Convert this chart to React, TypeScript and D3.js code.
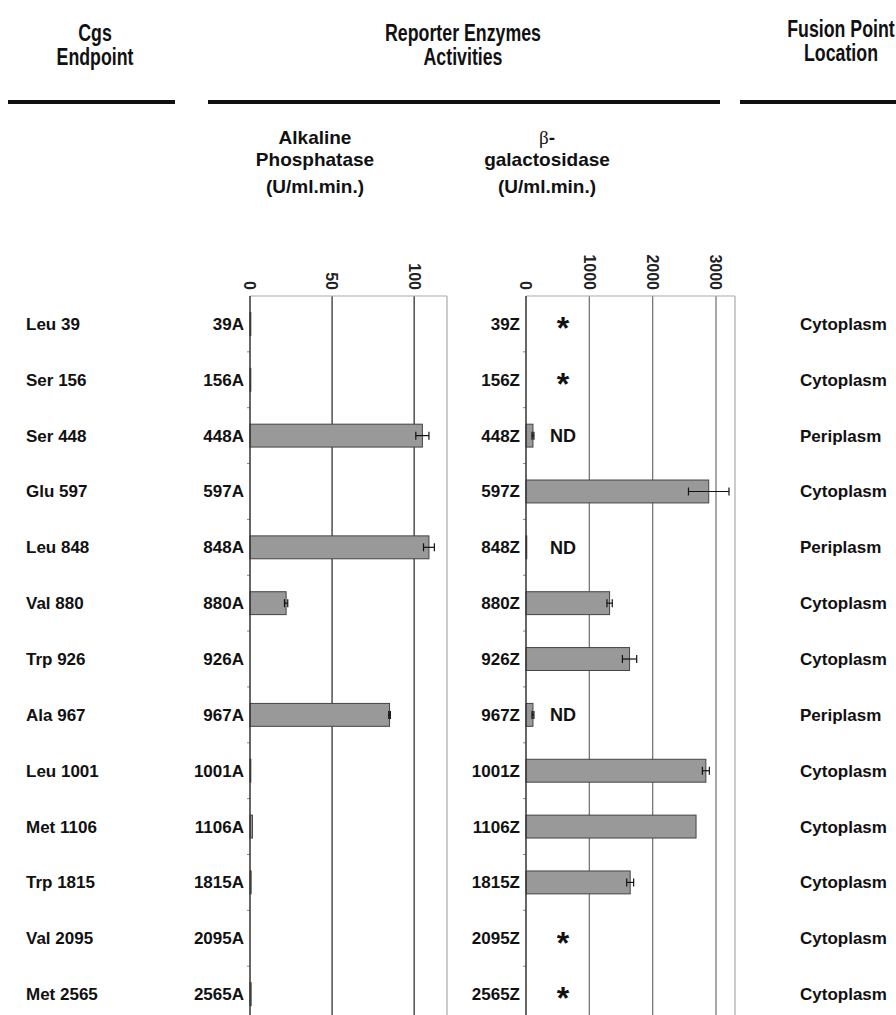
import * as d3 from 'd3'

const endpoints = ['Leu 39', 'Ser 156', 'Ser 448', 'Glu 597', 'Leu 848', 'Val 880', 'Trp 926', 'Ala 967', 'Leu 1001', 'Met 1106', 'Trp 1815', 'Val 2095', 'Met 2565']
const fusionIds = ['39', '156', '448', '597', '848', '880', '926', '967', '1001', '1106', '1815', '2095', '2565']
const locations = ['Cytoplasm', 'Cytoplasm', 'Periplasm', 'Cytoplasm', 'Periplasm', 'Cytoplasm', 'Cytoplasm', 'Periplasm', 'Cytoplasm', 'Cytoplasm', 'Cytoplasm', 'Cytoplasm', 'Cytoplasm']

// alkaline phosphatase, U/ml.min.
const apValues = [0.5, 0.5, 105, 0, 109, 22, 0, 85, 0.5, 1.5, 0.7, 0, 0.7]
const apErrors = [0, 0, 4, 0, 3.3, 1, 0, 0.5, 0, 0, 0, 0, 0]
// beta-galactosidase, U/ml.min.
const galValues = [0, 0, 110, 2885, 12, 1320, 1635, 110, 2840, 2685, 1645, 0, 0]
const galErrors = [0, 0, 15, 320, 0, 42, 113, 15, 55, 0, 55, 0, 0]
const galNotes = ['*', '*', 'ND', '', 'ND', '', '', 'ND', '', '', '', '*', '*']

const apTicks = [0, 50, 100]
const galTicks = [0, 1000, 2000, 3000]

const SANS = '"Liberation Sans", Arial, Helvetica, sans-serif'

const W = 896
const H = 1015
const TOP = 296

// condensed bold header text (no narrow font installed, so squeeze it)
function Head({ x, y, children }: { x: number; y: number; children: string }) {
  return (
    <text transform={`translate(${x},${y}) scale(0.74,1)`} textAnchor="middle" fontFamily={SANS}
      fontWeight="bold" fontSize={24} fill="#111">{children}</text>
  )
}

export default function App() {
  const y = d3.scaleBand<string>()
    .domain(fusionIds)
    .range([TOP, TOP + 13 * 55.85])
    .paddingInner(0.59)
    .paddingOuter(0.295)
  const step = y.step()
  const rowC = (id: string) => (y(id) as number) + y.bandwidth() / 2
  const bottom = TOP + 13 * step

  const xA = d3.scaleLinear().domain([0, 120]).range([250, 447])
  const xZ = d3.scaleLinear().domain([0, 3300]).range([526, 735])

  const boundaries = d3.range(1, 13).map(i => TOP + i * step)

  const panel = (
    x: d3.ScaleLinear<number, number>,
    ticks: number[],
    values: number[],
    errors: number[],
    gridColor: string,
    suffix: string
  ) => {
    const [x0, x1] = x.range()
    return (
      <g>
        {ticks.slice(1).map(t => (
          <line key={t} x1={x(t)} x2={x(t)} y1={TOP} y2={bottom} stroke={gridColor} strokeWidth={1.3} />
        ))}
        <line x1={x0} x2={x1} y1={TOP} y2={TOP} stroke="#aaa" strokeWidth={1.2} />
        <line x1={x1} x2={x1} y1={TOP} y2={bottom} stroke="#aaa" strokeWidth={1.2} />
        {ticks.map(t => (
          <text key={t} transform={`translate(${x(t)},290) rotate(90)`} textAnchor="end" dy="0.35em"
            fontFamily={SANS} fontWeight="bold" fontSize={16} fill="#222">{t}</text>
        ))}
        {boundaries.map(b => (
          <line key={b} x1={x0 - 3} x2={x0} y1={b} y2={b} stroke="#888" strokeWidth={1} />
        ))}
        {fusionIds.map((id, i) => {
          const cy = rowC(id)
          const v = values[i]
          const e = errors[i]
          return (
            <g key={id}>
              {v > 0 && (
                <rect x={x0} y={y(id)} width={x(v) - x0} height={y.bandwidth()}
                  fill="#999" stroke="#444" strokeWidth={1} />
              )}
              {e > 0 && (
                <g stroke="#111" strokeWidth={1.2}>
                  <line x1={x(v - e)} x2={x(v + e)} y1={cy} y2={cy} />
                  <line x1={x(v - e)} x2={x(v - e)} y1={cy - 4} y2={cy + 4} />
                  <line x1={x(v + e)} x2={x(v + e)} y1={cy - 4} y2={cy + 4} />
                </g>
              )}
              <text x={x0 - 6} y={cy} dy="0.35em" textAnchor="end" fontFamily={SANS}
                fontWeight="bold" fontSize={17} fill="#111">{id + suffix}</text>
            </g>
          )
        })}
        <line x1={x0} x2={x0} y1={TOP} y2={bottom} stroke="#333" strokeWidth={1.5} />
      </g>
    )
  }

  return (
    <svg width={W} height={H} style={{ position: 'absolute', left: 0, top: 0, background: '#fff' }}>
      {/* column headers */}
      <Head x={95} y={41}>Cgs</Head>
      <Head x={95} y={65}>Endpoint</Head>
      <Head x={463} y={41}>Reporter Enzymes</Head>
      <Head x={463} y={65}>Activities</Head>
      <Head x={841} y={37}>Fusion Point</Head>
      <Head x={841} y={61}>Location</Head>
      <g stroke="#111" strokeWidth={4}>
        <line x1={8} x2={175} y1={102} y2={102} />
        <line x1={208} x2={720} y1={102} y2={102} />
        <line x1={740} x2={896} y1={102} y2={102} />
      </g>

      {/* sub headers */}
      <g fontFamily={SANS} fontWeight="bold" fontSize={19} fill="#111" textAnchor="middle">
        <text x={315} y={144}>Alkaline</text>
        <text x={315} y={166}>Phosphatase</text>
        <text x={315} y={193}>(U/ml.min.)</text>
        <text x={547} y={144}>
          <tspan fontFamily='"Liberation Serif", "DejaVu Serif", serif' fontWeight="normal">β</tspan>-
        </text>
        <text x={547} y={166}>galactosidase</text>
        <text x={547} y={193}>(U/ml.min.)</text>
      </g>

      {panel(xA, apTicks, apValues, apErrors, '#333', 'A')}
      {panel(xZ, galTicks, galValues, galErrors, '#777', 'Z')}

      {/* notes on the beta-galactosidase panel */}
      {fusionIds.map((id, i) => galNotes[i] && (
        galNotes[i] === '*'
          ? <text key={id} x={563} y={rowC(id)} dy="0.48em" textAnchor="middle" fontFamily={SANS}
              fontWeight="bold" fontSize={32} fill="#111">*</text>
          : <text key={id} x={563} y={rowC(id)} dy="0.35em" textAnchor="middle" fontFamily={SANS}
              fontWeight="bold" fontSize={18} fill="#111">{galNotes[i]}</text>
      ))}

      {/* row labels */}
      {fusionIds.map((id, i) => (
        <g key={id} fontFamily={SANS} fontWeight="bold" fill="#111" fontSize={17}>
          <text x={26} y={rowC(id)} dy="0.35em">{endpoints[i]}</text>
          <text x={800} y={rowC(id)} dy="0.35em">{locations[i]}</text>
        </g>
      ))}
    </svg>
  )
}
